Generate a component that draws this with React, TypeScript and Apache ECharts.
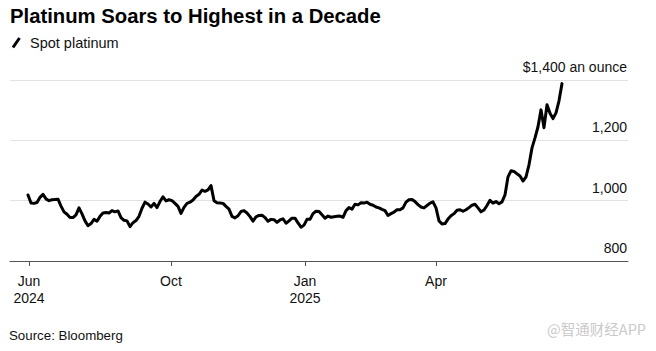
import React, { useEffect, useRef } from "react";
import * as echarts from "echarts";

// Spot platinum, USD per ounce, sampled along the chart (Jun 2024 – late Jun 2025)
const prices: number[] = [
  1019, 992, 991, 994, 1011, 1021, 1006, 1000, 1003, 1004,
  1005, 982, 963, 955, 944, 944, 953, 976, 956, 933,
  917, 924, 938, 932, 948, 959, 961, 959, 967, 963,
  966, 944, 935, 933, 914, 927, 934, 948, 975, 995,
  989, 979, 991, 977, 997, 1013, 999, 1003, 1000, 991,
  981, 958, 978, 991, 995, 1002, 1014, 1021, 1035, 1031,
  1036, 1050, 1000, 993, 992, 991, 981, 972, 948, 943,
  950, 964, 967, 959, 947, 932, 946, 951, 952, 944,
  932, 938, 937, 928, 936, 940, 925, 933, 942, 942,
  926, 912, 919, 938, 938, 957, 965, 964, 953, 942,
  949, 945, 947, 948, 949, 945, 967, 977, 972, 988,
  986, 993, 992, 995, 988, 985, 979, 976, 971, 967,
  951, 957, 962, 970, 970, 976, 995, 1003, 1004, 997,
  987, 979, 976, 984, 992, 996, 976, 933, 923, 924,
  939, 950, 957, 968, 970, 965, 970, 977, 985, 988,
  976, 963, 969, 984, 1001, 992, 997, 990, 996, 1019,
  1079, 1099, 1097, 1089, 1082, 1065, 1079, 1119, 1175, 1208,
  1245, 1301, 1242, 1318, 1290, 1272, 1291, 1331, 1388,
];

// x-axis tick positions (in sample index units) and their labels
const tickIdx: number[] = [0.33, 47.67, 92.33, 136];
const tickLabels: string[] = ["Jun\n2024", "Oct", "Jan\n2025", "Apr"];

// y-axis ticks
const yTicks: number[] = [800, 1000, 1200, 1400];
const yTickLabels: string[] = ["800", "1,000", "1,200", "$1,400 an ounce"];

const title = "Platinum Soars to Highest in a Decade";
const legendLabel = "Spot platinum";
const sourceText = "Source: Bloomberg";
const watermark = "@智通财经APP";

const FONT = "'Liberation Sans', Arial, Helvetica, sans-serif";

export default function App() {
  const ref = useRef<HTMLDivElement>(null);

  useEffect(() => {
    if (!ref.current) return;
    const chart = echarts.init(ref.current, null, { renderer: "svg" });
    const seriesData = prices.map((v, i) => [i, v]);

    chart.setOption({
      animation: false,
      backgroundColor: "#ffffff",
      textStyle: { fontFamily: FONT },
      grid: { left: 10, right: 28, top: 80, bottom: 90, containLabel: false },
      xAxis: {
        type: "value",
        min: -6,
        max: 200,
        axisLine: { show: true, onZero: false, lineStyle: { color: "#555555", width: 1 } },
        axisTick: {
          show: true,
          customValues: tickIdx,
          length: 5,
          lineStyle: { color: "#555555", width: 1 },
        },
        axisLabel: {
          customValues: tickIdx,
          formatter: (v: number) => {
            const k = tickIdx.findIndex((t) => Math.abs(t - v) < 0.01);
            return k >= 0 ? tickLabels[k] : "";
          },
          color: "#111111",
          fontSize: 14,
          lineHeight: 17,
          margin: 11,
          fontFamily: FONT,
        },
        splitLine: { show: false },
      },
      yAxis: {
        type: "value",
        position: "right",
        min: 800,
        max: 1400,
        interval: 200,
        axisLine: { show: false },
        axisTick: { show: false },
        splitLine: { show: true, lineStyle: { color: "#e2e2e2", width: 1 } },
        axisLabel: {
          inside: true,
          margin: 1,
          verticalAlign: "bottom",
          padding: [0, 0, 6, 0],
          color: "#111111",
          fontSize: 14,
          fontFamily: FONT,
          formatter: (v: number) => {
            const k = yTicks.indexOf(v);
            return k >= 0 ? yTickLabels[k] : "";
          },
        },
      },
      series: [
        {
          type: "line",
          data: seriesData,
          showSymbol: false,
          symbol: "none",
          lineStyle: { color: "#000000", width: 3, join: "round", cap: "round" },
          z: 5,
        },
      ],
      graphic: [
        {
          type: "text",
          left: 10,
          top: 6,
          style: {
            text: title,
            fontSize: 20.3,
            fontWeight: "bold",
            fontFamily: FONT,
            fill: "#000000",
          },
        },
        {
          type: "line",
          shape: { x1: 13, y1: 47.5, x2: 19.5, y2: 38 },
          style: { stroke: "#000000", lineWidth: 3 },
        },
        {
          type: "text",
          x: 30,
          y: 43,
          style: {
            text: legendLabel,
            fontSize: 14.5,
            fontFamily: FONT,
            fill: "#111111",
            verticalAlign: "middle",
          },
        },
        {
          type: "text",
          x: 9,
          y: 335,
          style: {
            text: sourceText,
            fontSize: 13.3,
            fontFamily: FONT,
            fill: "#111111",
            verticalAlign: "middle",
          },
        },
        {
          type: "text",
          x: 646,
          y: 328,
          style: {
            text: watermark,
            fontSize: 14.5,
            fontFamily: "'Noto Sans CJK SC', " + FONT,
            fill: "#cacaca",
            align: "right",
            verticalAlign: "middle",
          },
        },
      ],
    });

    return () => chart.dispose();
  }, []);

  return (
    <div
      ref={ref}
      style={{ width: 656, height: 351, position: "absolute", left: 0, top: 0 }}
    />
  );
}
